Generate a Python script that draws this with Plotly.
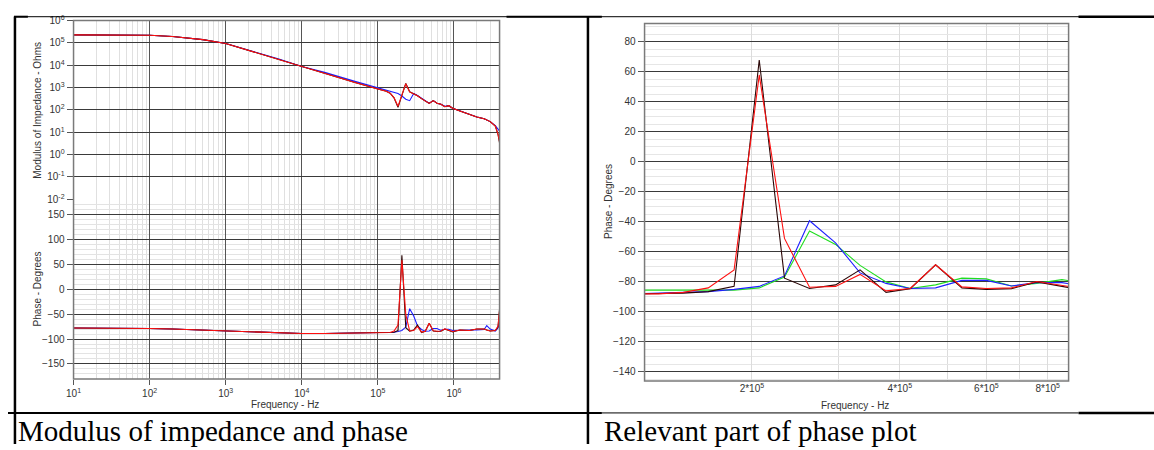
import plotly.graph_objects as go

W, H = 1154, 450

# ---------------- data ----------------
freq_full = [10, 20, 50, 100, 200, 500, 1e3, 2e3, 5e3, 1e4, 2e4, 5e4,
             1e5, 1.15e5, 1.29e5, 1.45e5, 1.63e5, 1.84e5, 2.07e5, 2.33e5, 2.62e5, 2.96e5,
             3.32e5, 3.75e5, 4.2e5, 4.73e5, 5.35e5, 6e5, 6.75e5, 7.6e5, 8.55e5, 9.62e5,
             1.2e6, 1.6e6, 2e6, 2.5e6, 2.7e6, 3e6, 3.5e6, 3.8e6, 4e6]

mag_black = [2.3e5, 2.3e5, 2.25e5, 2.2e5, 1.95e5, 1.4e5, 9.5e4, 4.6e4, 1.8e4, 8.5e3, 4.4e3, 1.7e3,
             870, 760, 680, 560, 350, 130, 480, 1550, 650, 540,
             430, 320, 260, 195, 260, 200, 180, 140, 155, 120,
             90, 63, 48, 40, 36, 30, 19, 8, 3.0]
mag_red = [2.3e5, 2.3e5, 2.25e5, 2.2e5, 1.95e5, 1.4e5, 9.5e4, 4.6e4, 1.8e4, 8.5e3, 4.4e3, 1.7e3,
           870, 760, 680, 560, 360, 145, 470, 1500, 640, 540,
           430, 320, 260, 195, 260, 200, 180, 140, 155, 120,
           90, 63, 48, 40, 36, 30, 19, 8, 3.5]
mag_blue = [2.3e5, 2.3e5, 2.25e5, 2.2e5, 1.95e5, 1.4e5, 9.5e4, 4.8e4, 1.9e4, 8.8e3, 4.8e3, 1.9e3,
            980, 880, 800, 720, 640, 540, 420, 300, 260, 540,
            440, 320, 260, 200, 260, 200, 180, 145, 155, 120,
            90, 63, 48, 40, 36, 30, 20, 14, 11]

ph_black = [-78, -78, -78, -79, -80, -82, -84, -86, -88, -89, -89, -88.5,
            -88, -88, -88, -87.5, -86.5, -83, 68, -77.5, -84.4, -82,
            -72, -87, -84.5, -68.6, -84, -85, -84.5, -80, -83, -86,
            -82, -83, -80, -80, -82, -84, -83, -76, -36]
ph_red = [-78, -78, -78, -79, -80, -82, -84, -86, -88, -89, -89, -88.5,
          -88, -88, -88, -87, -84, -72, 58, -51, -83.6, -83,
          -75, -86, -84.4, -68.6, -83.3, -84.4, -84, -79.7, -82.5, -85,
          -82, -83, -80, -80, -82, -84, -83, -74, -40]
ph_blue = [-78, -78, -78, -79, -80, -82, -84, -86, -88, -89, -89, -88.5,
           -88, -88, -87.5, -87, -86.5, -85, -83, -76, -39.2, -54,
           -74, -81, -84.4, -84, -79, -79, -82.7, -80.5, -80.5, -83,
           -82, -82, -82, -81, -73, -80, -84, -78, -58]

freq_zoom = [1.15e5, 1.29e5, 1.45e5, 1.63e5, 1.84e5, 2.07e5, 2.33e5, 2.62e5, 2.96e5, 3.32e5,
             3.75e5, 4.2e5, 4.73e5, 5.35e5, 6e5, 6.75e5, 7.6e5, 8.55e5, 9.62e5]
zoom_black = [-88, -88, -87.5, -86.5, -83, 68, -77.5, -84.4, -82, -72,
              -87, -84.5, -68.6, -84, -85, -84.5, -80, -83, -86]
zoom_red = [-88, -88, -87, -84, -72, 58, -51, -83.6, -83, -75,
            -86, -84.4, -68.6, -83.3, -84.4, -84, -79.7, -82.5, -85]
zoom_blue = [-88, -87.5, -87, -86.5, -85, -83, -76, -39.2, -54, -74,
             -81, -84.4, -84, -79, -79, -82.7, -80.5, -80.5, -83]
zoom_green = [-85.5, -85.5, -86, -86, -85.5, -84, -76.8, -46, -55, -69,
              -80, -84.4, -82, -77.5, -78, -82.7, -81, -78.5, -81]

mag_ticks = [1e-2, 1e-1, 1, 10, 100, 1e3, 1e4, 1e5, 1e6]
mag_exps = [-2, -1, 0, 1, 2, 3, 4, 5, 6]
freq_ticks = [10, 100, 1e3, 1e4, 1e5, 1e6]
freq_exps = [1, 2, 3, 4, 5, 6]
zoom_ticks = [2e5, 4e5, 6e5, 8e5]
zoom_ticktext = ["2*10<sup>5</sup>", "4*10<sup>5</sup>", "6*10<sup>5</sup>", "8*10<sup>5</sup>"]
zoom_minor = [3e5, 5e5, 7e5]

C_BLACK = "#2a0606"
C_RED = "#ff1010"
C_BLUE = "#1f1fff"
C_GREEN = "#20dd20"

# ---------------- geometry helpers (pixels -> paper) ----------------
def px(x):
    return x / W

def py(y):
    return 1 - y / H

L_X0, L_X1 = 66, 495
MAG_Y0, MAG_Y1 = 14, 198
PH_Y1 = 383
R_X0, R_X1 = 641, 1068
R_Y0, R_Y1 = 17, 385

fig = go.Figure()

lw = 1.1
for ys, col in [(mag_blue, C_BLUE), (mag_black, C_BLACK), (mag_red, C_RED)]:
    fig.add_trace(go.Scatter(x=freq_full, y=ys, mode="lines", line=dict(color=col, width=lw),
                             xaxis="x", yaxis="y", showlegend=False))
for ys, col in [(ph_blue, C_BLUE), (ph_black, C_BLACK), (ph_red, C_RED)]:
    fig.add_trace(go.Scatter(x=freq_full, y=ys, mode="lines", line=dict(color=col, width=lw),
                             xaxis="x", yaxis="y2", showlegend=False))
for ys, col in [(zoom_green, C_GREEN), (zoom_blue, C_BLUE), (zoom_black, C_BLACK), (zoom_red, C_RED)]:
    fig.add_trace(go.Scatter(x=freq_zoom, y=ys, mode="lines", line=dict(color=col, width=lw),
                             xaxis="x2", yaxis="y3", showlegend=False, cliponaxis=True))

tickfont = dict(family="Liberation Sans, Arial, sans-serif", size=10, color="#333333")
minor_log = [m * 10 ** e for e in range(1, 7) for m in range(2, 10)]

fig.update_layout(
    width=W, height=H, autosize=False,
    margin=dict(l=0, r=0, t=0, b=0),
    paper_bgcolor="white", plot_bgcolor="white",
    showlegend=False,
    xaxis=dict(
        type="log", domain=[px(L_X0), px(L_X1)], range=[1, 6.6],
        anchor="y2", tickmode="array", tickvals=freq_ticks,
        ticktext=[f"10<sup>{e}</sup>" for e in freq_exps],
        showgrid=True, gridcolor="#555555", gridwidth=1,
        ticks="outside", ticklen=5, tickcolor="#555555",
        tickfont=tickfont, zeroline=False, showline=False,
        minor=dict(tickmode="array", tickvals=minor_log, showgrid=True,
                   gridcolor="#e0e0e0", gridwidth=1, ticks=""),
    ),
    yaxis=dict(
        type="log", domain=[py(MAG_Y1), py(MAG_Y0)], range=[-2, 6],
        anchor="x", tickmode="array", tickvals=mag_ticks,
        ticktext=[f"10<sup>{e}</sup>" for e in mag_exps],
        showgrid=True, gridcolor="#3a3a3a", gridwidth=1,
        ticks="outside", ticklen=6, tickcolor="#555555",
        tickfont=tickfont, zeroline=False, showline=False,
    ),
    yaxis2=dict(
        domain=[py(PH_Y1), py(MAG_Y1)], range=[-180, 180],
        anchor="x", tickmode="array", tickvals=[-150, -100, -50, 0, 50, 100, 150],
        showgrid=True, gridcolor="#3a3a3a", gridwidth=1,
        ticks="outside", ticklen=6, tickcolor="#555555",
        tickfont=tickfont, zeroline=False, showline=False,
        minor=dict(dtick=10, tick0=0, showgrid=True, gridcolor="#e3e3e3", ticks=""),
    ),
    xaxis2=dict(
        type="log", domain=[px(R_X0), px(R_X1)], range=[5.0826, 5.9455],
        anchor="y3", tickmode="array", tickvals=zoom_ticks, ticktext=zoom_ticktext,
        showgrid=True, gridcolor="#dcdcdc", gridwidth=1,
        ticks="", tickfont=tickfont, zeroline=False, showline=False,
        minor=dict(tickmode="array", tickvals=zoom_minor, showgrid=True,
                   gridcolor="#dcdcdc", gridwidth=1, ticks=""),
    ),
    yaxis3=dict(
        domain=[py(R_Y1), py(R_Y0)], range=[-146, 92.3],
        anchor="x2", tickmode="linear", tick0=0, dtick=20,
        showgrid=True, gridcolor="#3a3a3a", gridwidth=1,
        ticks="outside", ticklen=6, tickcolor="#555555",
        tickfont=tickfont, zeroline=False, showline=False,
        minor=dict(dtick=5, tick0=0, showgrid=True, gridcolor="#e6e6e6", ticks=""),
    ),
)

shapes = []
# plot frames
for x0, y0, x1, y1 in [(L_X0, MAG_Y0, L_X1, PH_Y1), (R_X0, R_Y0, R_X1, R_Y1)]:
    shapes.append(dict(type="rect", xref="paper", yref="paper",
                       x0=px(x0), x1=px(x1), y0=py(y1), y1=py(y0),
                       line=dict(color="#7a7a7a", width=1.5), layer="above"))

def hline(x0, x1, y, w):
    shapes.append(dict(type="line", xref="paper", yref="paper",
                       x0=px(x0), x1=px(x1), y0=py(y), y1=py(y),
                       line=dict(color="black", width=w)))

def vline(x, y0, y1, w):
    shapes.append(dict(type="line", xref="paper", yref="paper",
                       x0=px(x), x1=px(x), y0=py(y0), y1=py(y1),
                       line=dict(color="black", width=w)))

# table borders
hline(6, 1154, 10, 1)
hline(6, 20, 10, 2)
hline(502, 598, 10, 2)
hline(1078, 1154, 10, 2.5)
hline(0, 598, 418, 2)
hline(598, 1078, 418, 1)
hline(1078, 1154, 418, 2.5)
vline(7, 10, 450, 2.5)
vline(584, 10, 450, 2.5)
fig.update_layout(shapes=shapes)

title_font = dict(family="Liberation Sans, Arial, sans-serif", size=10, color="#333333")
cap_font = dict(family="Liberation Serif, Times New Roman, serif", size=29, color="black")
annotations = [
    dict(text="Modulus of Impedance - Ohms", x=px(30), y=py(106), textangle=-90,
         font=title_font, showarrow=False, xref="paper", yref="paper",
         xanchor="center", yanchor="middle"),
    dict(text="Phase - Degrees", x=px(30), y=py(290), textangle=-90,
         font=title_font, showarrow=False, xref="paper", yref="paper",
         xanchor="center", yanchor="middle"),
    dict(text="Frequency - Hz", x=px(279), y=py(409),
         font=title_font, showarrow=False, xref="paper", yref="paper",
         xanchor="center", yanchor="middle"),
    dict(text="Phase - Degrees", x=px(604), y=py(200), textangle=-90,
         font=title_font, showarrow=False, xref="paper", yref="paper",
         xanchor="center", yanchor="middle"),
    dict(text="Frequency - Hz", x=px(853), y=py(410),
         font=title_font, showarrow=False, xref="paper", yref="paper",
         xanchor="center", yanchor="middle"),
    dict(text="Modulus of impedance and phase", x=px(8), y=py(437),
         font=cap_font, showarrow=False, xref="paper", yref="paper",
         xanchor="left", yanchor="middle"),
    dict(text="Relevant part of phase plot", x=px(598), y=py(437),
         font=cap_font, showarrow=False, xref="paper", yref="paper",
         xanchor="left", yanchor="middle"),
]
fig.update_layout(annotations=annotations)

fig.write_html("out.html",
               config={"displayModeBar": False},
               post_script="document.body.style.margin='0';document.body.style.overflow='hidden';")
